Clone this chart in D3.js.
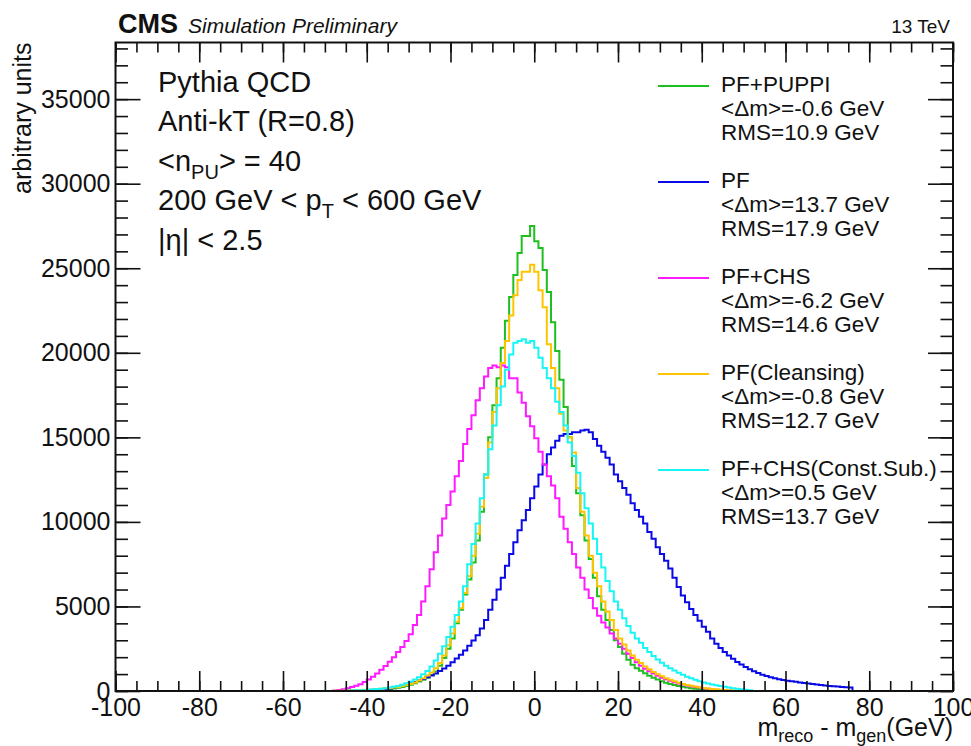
<!DOCTYPE html>
<html><head><meta charset="utf-8">
<script src="https://cdn.jsdelivr.net/npm/d3@7"></script>
<style>
body{margin:0;background:#fff}
svg{display:block}
text{font-family:"Liberation Sans",Arial,Helvetica,sans-serif;fill:#111}
</style>
</head><body>
<svg id="chart" width="971" height="746"></svg>
<script>
// ---------------- data ----------------
const xDomain = [-100, 100];
const yDomain = [0, 38350];
const binWidth = 1;
const xMajorTicks = [-100, -80, -60, -40, -20, 0, 20, 40, 60, 80, 100];
const xMinorTicks = d3.range(-100, 101, 5);
const yMajorTicks = [0, 5000, 10000, 15000, 20000, 25000, 30000, 35000];
const yMinorTicks = d3.range(0, 38001, 1000);

const seriesNames = ["PF+PUPPI", "PF", "PF+CHS", "PF(Cleansing)", "PF+CHS(Const.Sub.)"];
const seriesMeans = ["<\u0394m>=-0.6 GeV", "<\u0394m>=13.7 GeV", "<\u0394m>=-6.2 GeV", "<\u0394m>=-0.8 GeV", "<\u0394m>=0.5 GeV"];
const seriesRMS = ["RMS=10.9 GeV", "RMS=17.9 GeV", "RMS=14.6 GeV", "RMS=12.7 GeV", "RMS=13.7 GeV"];
const seriesColors = ["#1fbf1f", "#0a0ae6", "#ff1aff", "#ffc400", "#19f5f5"];

// bin contents, first bin lower edge given by *Start
const puppiStart = -45;
const puppiValues = [
  10,10,20,20,30,40,50,60,80,100,
  120,150,190,240,300,370,460,560,670,790,
  950,1150,1500,1950,2500,3100,4000,4800,5700,6600,
  7600,8900,10600,12800,15000,16900,18500,20300,21900,23300,
  24600,25900,26900,26900,27500,26600,26200,24900,23600,21800,
  20100,18400,16800,15000,13300,11700,10400,8900,7800,6700,
  5600,4800,4200,3600,3000,2600,2200,1850,1550,1350,
  1200,1050,900,780,680,580,490,420,360,300,
  250,210,170,140,110,80,60,40,30,20,
  10];
const pfStart = -40;
const pfValues = [
  30,40,60,80,110,150,200,250,310,380,
  450,530,620,710,810,920,1040,1180,1330,1500,
  1700,1920,2150,2400,2680,2980,3300,3700,4200,4800,
  5400,6000,6700,7400,8100,8800,9500,10100,10700,11400,
  12100,12800,13400,14000,14400,14800,15100,15200,15200,15300,
  15300,15400,15450,15300,14900,14500,14150,13800,13400,12800,
  12400,12000,11600,11100,10700,10300,9900,9400,9000,8500,
  8100,7700,7250,6700,6150,5650,5250,4850,4500,4150,
  3800,3500,3100,2800,2550,2300,2100,1900,1720,1560,
  1420,1290,1170,1060,960,880,810,750,700,650,
  610,570,540,510,480,450,420,390,360,330,
  300,280,260,240,220,200];
const chsStart = -48;
const chsValues = [
  30,60,110,170,230,310,400,530,680,850,
  1040,1250,1480,1730,2000,2300,2600,2950,3350,3900,
  4500,5300,6200,7200,8200,9200,10200,11000,11800,12700,
  13600,14600,15500,16300,17200,17900,18600,19100,19250,19150,
  19250,19150,18500,18500,17650,17050,16250,15650,14950,14150,
  13400,12700,12150,11400,10300,9600,8800,8100,7300,6700,
  6000,5500,4900,4450,4050,3750,3400,3100,2800,2500,
  2200,1950,1700,1500,1320,1170,1030,900,790,690,
  600,520,450,390,330,280,240,200,160,130,
  100,80,60,40,30];
const cleansingStart = -48;
const cleansingValues = [
  10,15,20,30,40,50,60,70,80,100,
  120,140,160,180,200,240,290,350,420,510,
  620,750,910,1100,1350,1650,2100,2700,3400,4100,
  4900,5800,6800,8000,9300,10900,12600,14700,16500,17900,
  19400,20700,22200,23400,24300,24800,24800,25200,24800,23700,
  22700,20500,19100,17900,16400,15400,15000,14100,12000,10600,
  9200,8000,7000,6200,5300,4700,4200,3600,3100,2750,
  2400,2100,1850,1650,1450,1280,1130,990,870,760,
  660,570,490,420,360,310,260,220,180,150,
  120,100,80,60,40,30,20];
const constSubStart = -45;
const constSubValues = [
  20,30,40,50,60,80,100,120,140,170,
  200,250,300,370,460,560,680,820,990,1190,
  1450,1800,2200,2650,3200,3800,4500,5300,6200,7500,
  8700,9900,11400,12800,14300,15700,16900,18000,19000,19900,
  20600,20700,20800,20600,20700,20300,19700,19100,18500,17900,
  17100,16500,15700,14700,13900,12900,11700,10800,9900,9000,
  8100,7300,6500,5900,5300,4800,4300,3850,3450,3100,
  2850,2550,2300,2070,1860,1670,1500,1350,1210,1080,
  960,850,750,660,580,510,450,390,340,290,
  250,210,170,130,100,70,40];

const seriesStarts = [puppiStart, pfStart, chsStart, cleansingStart, constSubStart];
const seriesValues = [puppiValues, pfValues, chsValues, cleansingValues, constSubValues];

// ---------------- layout ----------------
const svg = d3.select("#chart");
const L = 115.5, R = 953, T = 42.5, B = 691;
const x = d3.scaleLinear().domain(xDomain).range([L, R]);
const y = d3.scaleLinear().domain(yDomain).range([B, T]);

svg.append("defs").append("clipPath").attr("id", "clip")
  .append("rect").attr("x", L - 1).attr("y", T).attr("width", R - L + 2).attr("height", B - T + 1.5);

// histograms
const edges = d3.range(xDomain[0], xDomain[1], binWidth);
const line = d3.line().x(d => x(d[0])).y(d => y(d[1]));
const histG = svg.append("g").attr("clip-path", "url(#clip)");
seriesValues.forEach((vals, i) => {
  const start = seriesStarts[i];
  const pts = [];
  edges.forEach(lo => {
    const idx = lo - start;
    const v = (idx >= 0 && idx < vals.length) ? vals[idx] : 0;
    pts.push([lo, v], [lo + binWidth, v]);
  });
  histG.append("path").attr("d", line(pts))
    .attr("fill", "none").attr("stroke", seriesColors[i])
    .attr("stroke-width", 2).attr("stroke-linejoin", "miter");
});

// axes
function styleAxis(g) {
  g.select(".domain").remove();
  g.selectAll("line").attr("stroke", "#111").attr("stroke-width", 1.6);
}
const tickFont = 25;
const plainFmt = d => String(d);
svg.append("g").attr("transform", `translate(0,${B})`)
  .call(d3.axisBottom(x).tickValues(xMajorTicks).tickSizeInner(-20).tickSizeOuter(0).tickPadding(7).tickFormat(plainFmt))
  .call(styleAxis)
  .call(g => g.selectAll("text").attr("font-size", tickFont).style("font-family", "Liberation Sans, Arial, sans-serif").attr("fill", "#111"));
svg.append("g").attr("transform", `translate(0,${B})`)
  .call(d3.axisBottom(x).tickValues(xMinorTicks).tickSizeInner(-10).tickSizeOuter(0).tickFormat(""))
  .call(styleAxis);
svg.append("g").attr("transform", `translate(0,${T})`)
  .call(d3.axisTop(x).tickValues(xMajorTicks).tickSizeInner(-20).tickSizeOuter(0).tickFormat(""))
  .call(styleAxis);
svg.append("g").attr("transform", `translate(0,${T})`)
  .call(d3.axisTop(x).tickValues(xMinorTicks).tickSizeInner(-10).tickSizeOuter(0).tickFormat(""))
  .call(styleAxis);

svg.append("g").attr("transform", `translate(${L},0)`)
  .call(d3.axisLeft(y).tickValues(yMajorTicks).tickSizeInner(-25).tickSizeOuter(0).tickPadding(5).tickFormat(plainFmt))
  .call(styleAxis)
  .call(g => g.selectAll("text").attr("font-size", tickFont).style("font-family", "Liberation Sans, Arial, sans-serif").attr("fill", "#111"));
svg.append("g").attr("transform", `translate(${L},0)`)
  .call(d3.axisLeft(y).tickValues(yMinorTicks).tickSizeInner(-12.5).tickSizeOuter(0).tickFormat(""))
  .call(styleAxis);
svg.append("g").attr("transform", `translate(${R},0)`)
  .call(d3.axisRight(y).tickValues(yMajorTicks).tickSizeInner(-25).tickSizeOuter(0).tickFormat(""))
  .call(styleAxis);
svg.append("g").attr("transform", `translate(${R},0)`)
  .call(d3.axisRight(y).tickValues(yMinorTicks).tickSizeInner(-12.5).tickSizeOuter(0).tickFormat(""))
  .call(styleAxis);

// frame
svg.append("rect").attr("x", L).attr("y", T).attr("width", R - L).attr("height", B - T)
  .attr("fill", "none").attr("stroke", "#111").attr("stroke-width", 2);

// axis titles
const xt = svg.append("text").attr("x", R).attr("y", 736).attr("text-anchor", "end").attr("font-size", 25);
xt.append("tspan").text("m");
xt.append("tspan").attr("font-size", 18).attr("dy", 6).text("reco");
xt.append("tspan").attr("dy", -6).text(" - m");
xt.append("tspan").attr("font-size", 18).attr("dy", 6).text("gen");
xt.append("tspan").attr("dy", -6).text("(GeV)");

svg.append("text").attr("transform", `translate(31,${T}) rotate(-90)`)
  .attr("text-anchor", "end").attr("font-size", 25).text("arbitrary units");

// header
svg.append("text").attr("x", 118).attr("y", 33).attr("font-size", 27).attr("font-weight", "bold").text("CMS");
svg.append("text").attr("x", 188).attr("y", 33).attr("font-size", 21).attr("font-style", "italic").text("Simulation Preliminary");
svg.append("text").attr("x", 950).attr("y", 33).attr("text-anchor", "end").attr("font-size", 19).text("13 TeV");

// annotations
const annX = 158, annY0 = 91.5, annDy = 39.5, annFont = 29;
svg.append("text").attr("x", annX).attr("y", annY0).attr("font-size", annFont).text("Pythia QCD");
svg.append("text").attr("x", annX).attr("y", annY0 + annDy).attr("font-size", annFont).text("Anti-kT (R=0.8)");
const a3 = svg.append("text").attr("x", annX).attr("y", annY0 + 2 * annDy).attr("font-size", annFont);
a3.append("tspan").text("<n");
a3.append("tspan").attr("font-size", 20).attr("dy", 8).text("PU");
a3.append("tspan").attr("dy", -8).text("> = 40");
const a4 = svg.append("text").attr("x", annX).attr("y", annY0 + 3 * annDy).attr("font-size", annFont);
a4.append("tspan").text("200 GeV < p");
a4.append("tspan").attr("font-size", 20).attr("dy", 8).text("T");
a4.append("tspan").attr("dy", -8).text(" < 600 GeV");
svg.append("text").attr("x", annX).attr("y", annY0 + 4 * annDy).attr("font-size", annFont).text("|\u03b7| < 2.5");

// legend
const legX1 = 658, legX2 = 709, legTx = 721, legY0 = 92, legStep = 96, legLine = 24, legFont = 22.5;
seriesNames.forEach((name, i) => {
  const by = legY0 + i * legStep;
  svg.append("line").attr("x1", legX1).attr("x2", legX2).attr("y1", by - 6).attr("y2", by - 6)
    .attr("stroke", seriesColors[i]).attr("stroke-width", 2);
  svg.append("text").attr("x", legTx).attr("y", by).attr("font-size", legFont).text(name);
  svg.append("text").attr("x", legTx).attr("y", by + legLine).attr("font-size", legFont).text(seriesMeans[i]);
  svg.append("text").attr("x", legTx).attr("y", by + 2 * legLine).attr("font-size", legFont).text(seriesRMS[i]);
});
</script>
</body></html>
